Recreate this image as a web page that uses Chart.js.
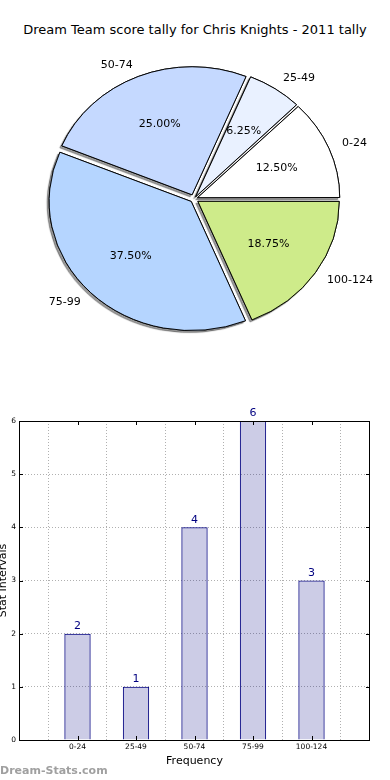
<!DOCTYPE html>
<html>
<head>
<meta charset="utf-8">
<script src="https://cdn.jsdelivr.net/npm/chart.js@4.4.1/dist/chart.umd.min.js"></script>
<style>
body { margin: 0; background: #fff; width: 390px; height: 780px; position: relative; overflow: hidden; font-family: 'DejaVu Sans', sans-serif; }
#title { position: absolute; top: 22px; left: 0; width: 390px; text-align: center; font-size: 13px; line-height: 16px; color: #000; }
#pieChart { position: absolute; left: 0; top: 40px; }
#barChart { position: absolute; left: -5px; top: 405px; }
#mark { position: absolute; left: 0; top: 763px; font-size: 11px; line-height: 16px; font-weight: bold; color: #a0a0a0; }
</style>
</head>
<body>
<div id="title">Dream Team score tally for Chris Knights - 2011 tally</div>
<canvas id="pieChart" width="390" height="320"></canvas>
<canvas id="barChart" width="395" height="370"></canvas>
<div id="mark">Dream-Stats.com</div>
<script>
// Score intervals and how many rounds fell in each
const categories = ['0-24', '25-49', '50-74', '75-99', '100-124'];
const counts = [2, 1, 4, 6, 3];
const sliceColors = ['#ffffff', '#e9f1ff', '#c5d9ff', '#b5d5ff', '#ceeb8a'];
const yMax = 6;

const total = counts.reduce((a, b) => a + b, 0);

// matplotlib goes counter-clockwise from 3 o'clock, chart.js clockwise -> reverse
const pieLabels = categories.slice().reverse();
const pieCounts = counts.slice().reverse();
const pieColors = sliceColors.slice().reverse();

const explode = 5;     // px each slice is pushed out
const squash = 0.908;  // the original pie is a bit wider than tall

// chart.js scales the offset by 1/4 and adds extra for thin slices, undo that
function sliceOffset(c) {
    const circ = c.raw / total * Math.PI * 2;
    const fix = 1 - Math.sin(Math.min(Math.PI, circ));
    return 4 * explode / (1 + fix);
}

const piePlugin = {
    id: 'piePlugin',
    beforeDatasetsDraw(chart) {
        const ctx = chart.ctx;
        const meta = chart.getDatasetMeta(0);
        const c = meta.data[0];
        ctx.save();
        ctx.translate(c.x, c.y);
        ctx.scale(1, squash);
        ctx.translate(-c.x, -c.y);
        // shadow pass
        ctx.save();
        ctx.shadowColor = 'rgba(0,0,0,0.4)';
        ctx.shadowOffsetX = -2;
        ctx.shadowOffsetY = 2;
        ctx.shadowBlur = 1;
        meta.data.forEach(el => el.draw(ctx));
        ctx.restore();
    },
    afterDatasetsDraw(chart) {
        const ctx = chart.ctx;
        ctx.restore();
        const meta = chart.getDatasetMeta(0);
        ctx.save();
        ctx.font = '11px "DejaVu Sans"';
        ctx.fillStyle = '#000';
        ctx.textBaseline = 'middle';
        meta.data.forEach((el, i) => {
            const p = el.getProps(['x', 'y', 'startAngle', 'endAngle', 'outerRadius'], true);
            const mid = (p.startAngle + p.endAngle) / 2;
            const cos = Math.cos(mid), sin = Math.sin(mid);
            // percentage inside
            let d = p.outerRadius * 0.6 + explode;
            ctx.textAlign = 'center';
            const pct = (pieCounts[i] / total * 100).toFixed(2) + '%';
            ctx.fillText(pct, p.x + cos * d, p.y + sin * d * squash);
            // category outside
            d = p.outerRadius * 1.1 + explode;
            ctx.textAlign = cos >= 0 ? 'left' : 'right';
            ctx.fillText(pieLabels[i], p.x + cos * d, p.y + sin * d * squash);
        });
        ctx.restore();
    }
};

new Chart(document.getElementById('pieChart'), {
    type: 'pie',
    data: {
        labels: pieLabels,
        datasets: [{
            data: pieCounts,
            backgroundColor: pieColors,
            borderColor: '#000',
            borderWidth: 1,
            offset: sliceOffset
        }]
    },
    options: {
        responsive: false,
        animation: false,
        rotation: 90,
        radius: 141,
        layout: { padding: { left: 0, right: 2, top: 0, bottom: 2 } },
        plugins: {
            legend: { display: false },
            tooltip: { enabled: false }
        }
    },
    plugins: [piePlugin]
});

// Bar chart: empty slots at both ends like the original x range
const barLabels = [''].concat(categories, ['']);
const barValues = [null].concat(counts, [null]);

const boxPlugin = {
    id: 'boxPlugin',
    afterDatasetsDraw(chart) {
        const ctx = chart.ctx;
        const a = chart.chartArea;
        const xs = chart.scales.x, ys = chart.scales.y;
        ctx.save();
        ctx.strokeStyle = '#000';
        ctx.lineWidth = 1;
        ctx.strokeRect(Math.round(a.left) + 0.5, Math.round(a.top) + 0.5,
            Math.round(a.right - a.left) - 1, Math.round(a.bottom - a.top));
        // small inward ticks
        ctx.beginPath();
        for (let i = 1; i < barLabels.length - 1; i++) {
            const x = Math.round(xs.getPixelForValue(i)) + 0.5;
            ctx.moveTo(x, a.bottom); ctx.lineTo(x, a.bottom - 4);
            ctx.moveTo(x, a.top); ctx.lineTo(x, a.top + 4);
        }
        for (let v = 0; v <= yMax; v++) {
            const y = Math.round(ys.getPixelForValue(v)) + 0.5;
            ctx.moveTo(a.left, y); ctx.lineTo(a.left + 4, y);
            ctx.moveTo(a.right, y); ctx.lineTo(a.right - 4, y);
        }
        ctx.stroke();

        // value labels on top of bars
        const meta = chart.getDatasetMeta(0);
        ctx.font = '11px "DejaVu Sans"';
        ctx.fillStyle = '#000080';
        ctx.textAlign = 'center';
        ctx.textBaseline = 'bottom';
        meta.data.forEach((bar, i) => {
            if (barValues[i] == null) return;
            ctx.fillText(String(barValues[i]), bar.x, bar.y - 2);
        });
        ctx.restore();
    }
};

new Chart(document.getElementById('barChart'), {
    type: 'bar',
    data: {
        labels: barLabels,
        datasets: [{
            data: barValues,
            backgroundColor: 'rgba(0,0,128,0.2)',
            borderColor: '#000080',
            borderWidth: 1,
            barPercentage: 0.45,
            categoryPercentage: 1
        }]
    },
    options: {
        responsive: false,
        animation: false,
        layout: { padding: { left: 0, right: 20, top: 16, bottom: 0 } },
        plugins: {
            legend: { display: false },
            tooltip: { enabled: false }
        },
        scales: {
            x: {
                offset: false,
                grid: { color: '#b0b0b0', lineWidth: 1, drawTicks: false },
                border: { display: false, dash: [1, 2] },
                ticks: { color: '#000', font: { family: 'DejaVu Sans', size: 7.5 }, padding: 3, maxRotation: 0, autoSkip: false },
                title: { display: true, text: 'Frequency', color: '#000', font: { family: 'DejaVu Sans', size: 11 }, padding: { top: 0, bottom: 7 } },
                afterFit(scale) { scale.height = 35; }
            },
            y: {
                min: 0,
                max: yMax,
                grid: { color: '#b0b0b0', lineWidth: 1, drawTicks: false },
                border: { display: false, dash: [1, 2] },
                ticks: { stepSize: 1, color: '#000', font: { family: 'DejaVu Sans', size: 7.5 }, padding: 3 },
                title: { display: true, text: 'Stat Intervals', color: '#000', font: { family: 'DejaVu Sans', size: 11 }, padding: { top: 2, bottom: 0 } },
                afterFit(scale) { scale.width = 24; }
            }
        }
    },
    plugins: [boxPlugin]
});
</script>
</body>
</html>
